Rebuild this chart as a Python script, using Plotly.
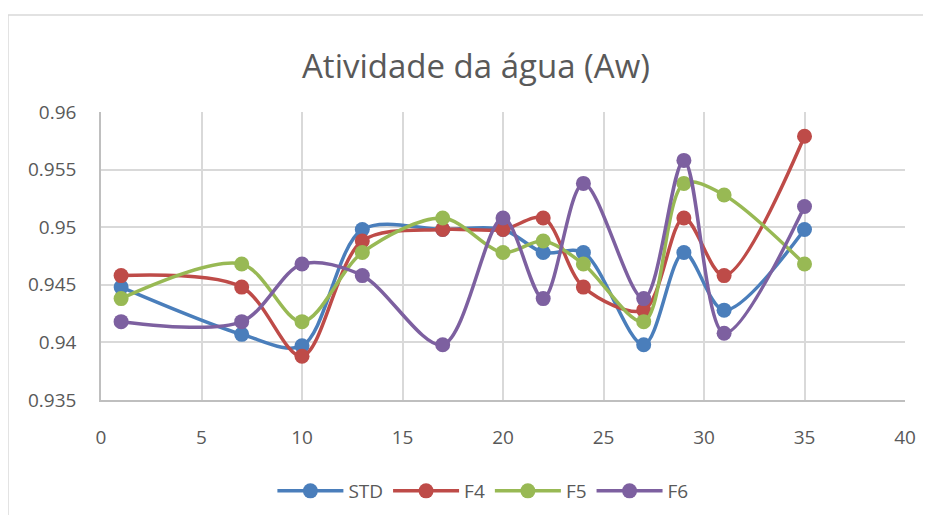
import plotly.graph_objects as go

x_vals = [1, 7, 10, 13, 17, 20, 22, 24, 27, 29, 31, 35]
std = [0.9448, 0.9407, 0.9397, 0.9498, 0.9498, 0.9498, 0.9478, 0.9478, 0.9398, 0.9478, 0.9428, 0.9498]
f4 = [0.9458, 0.9448, 0.9388, 0.9488, 0.9498, 0.9498, 0.9508, 0.9448, 0.9428, 0.9508, 0.9458, 0.9579]
f5 = [0.9438, 0.9468, 0.9418, 0.9478, 0.9508, 0.9478, 0.9488, 0.9468, 0.9418, 0.9538, 0.9528, 0.9468]
f6 = [0.9418, 0.9418, 0.9468, 0.9458, 0.9398, 0.9508, 0.9438, 0.9538, 0.9438, 0.9558, 0.9408, 0.9518]

series = [("STD", std, "#4a7ebb"), ("F4", f4, "#be4b48"),
          ("F5", f5, "#98b954"), ("F6", f6, "#7d60a0")]

fig = go.Figure()
for name, ys, col in series:
    fig.add_trace(go.Scatter(
        x=x_vals, y=ys, name=name, mode="lines+markers",
        line=dict(color=col, width=3.5, shape="spline", smoothing=0.9),
        marker=dict(color=col, size=15)))

FONT = "Open Sans"
GRAY = "#595959"
W, H = 923, 507
fig.update_layout(
    width=W, height=H,
    margin=dict(l=93, r=26, t=104, b=115, autoexpand=False),
    paper_bgcolor="white", plot_bgcolor="white",
    font=dict(family=FONT, color=GRAY, size=19),
    title=dict(text="Atividade da água (Aw)", x=468 / W, xanchor="center",
               y=1 - 58 / H, yanchor="middle",
               font=dict(family=FONT, size=33, color=GRAY)),
    showlegend=True,
    legend=dict(orientation="h", x=0.475, xanchor="center",
                y=-0.316, yanchor="middle",
                font=dict(family=FONT, size=19, color=GRAY),
                itemwidth=66, tracegroupgap=0),
    shapes=[dict(type="rect", xref="paper", yref="paper",
                 x0=-0.1157, x1=1.2, y0=-0.6, y1=1.3368,
                 line=dict(color="#d9d9d9", width=1.5), layer="below")],
)
fig.update_xaxes(range=[0, 40], dtick=5, tick0=0, showgrid=True,
                 gridcolor="#d9d9d9", gridwidth=1.5, zeroline=False,
                 showline=True, linecolor="#bfbfbf", linewidth=1.5,
                 ticks="", ticklabelstandoff=19, automargin=False,
                 tickfont=dict(family=FONT, size=19, color=GRAY))
fig.update_yaxes(range=[0.935, 0.96], dtick=0.005, tick0=0.935,
                 tickformat="~g", showgrid=True,
                 gridcolor="#d9d9d9", gridwidth=1.5, zeroline=False,
                 showline=True, linecolor="#bfbfbf", linewidth=1.5,
                 ticks="", ticklabelstandoff=19, automargin=False,
                 tickfont=dict(family=FONT, size=19, color=GRAY))

fig.write_html("out.html")
